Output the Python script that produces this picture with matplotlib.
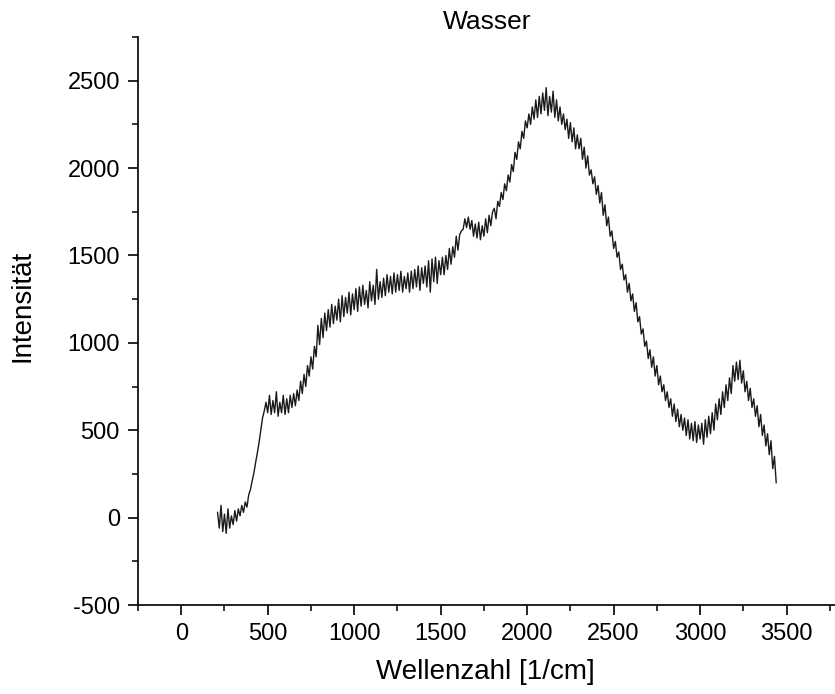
"""Raman spectrum of water (Wasser)."""

import matplotlib

matplotlib.use("Agg")
import matplotlib.pyplot as plt
import numpy as np
from matplotlib.ticker import MultipleLocator

plt.rcParams["font.family"] = ["Liberation Sans", "DejaVu Sans"]
plt.rcParams["axes.unicode_minus"] = False

# wavenumber grid, 10 cm^-1 steps
wavenumbers = np.arange(210, 3450, 10)

# intensity values, one row per 100 cm^-1
intensity = [
    30, -60, 70, -80, 20, -90, 50, -60, 10, -40,
    40, -20, 50, 10, 70, 30, 90, 60, 130, 160,
    210, 255, 315, 370, 430, 500, 570, 610, 660, 600,
    700, 590, 670, 600, 720, 580, 660, 600, 700, 590,
    680, 600, 700, 630, 710, 640, 730, 670, 780, 710,
    820, 750, 870, 810, 920, 850, 980, 920, 1100, 990,
    1140, 1030, 1170, 1070, 1190, 1090, 1220, 1110, 1210, 1130,
    1250, 1120, 1270, 1150, 1260, 1170, 1290, 1160, 1280, 1190,
    1310, 1180, 1320, 1210, 1330, 1220, 1300, 1200, 1350, 1240,
    1330, 1220, 1420, 1250, 1350, 1260, 1370, 1270, 1390, 1290,
    1380, 1280, 1400, 1290, 1390, 1300, 1410, 1290, 1380, 1310,
    1400, 1290, 1410, 1310, 1420, 1320, 1440, 1300, 1430, 1340,
    1440, 1320, 1470, 1290, 1480, 1350, 1490, 1340, 1470, 1390,
    1490, 1390, 1500, 1420, 1540, 1450, 1550, 1490, 1610, 1530,
    1620, 1640, 1650, 1710, 1660, 1720, 1650, 1700, 1610, 1680,
    1600, 1690, 1590, 1670, 1610, 1710, 1630, 1730, 1670, 1750,
    1770, 1710, 1810, 1780, 1860, 1820, 1910, 1870, 1960, 1920,
    2020, 1980, 2090, 2050, 2150, 2110, 2210, 2170, 2270, 2230,
    2310, 2250, 2350, 2280, 2390, 2290, 2410, 2310, 2430, 2330,
    2460, 2300, 2410, 2320, 2440, 2290, 2390, 2270, 2350, 2250,
    2310, 2220, 2280, 2170, 2260, 2150, 2230, 2110, 2190, 2110,
    2170, 2050, 2120, 2000, 2070, 1960, 1990, 1910, 1950, 1850,
    1900, 1800, 1860, 1730, 1790, 1670, 1720, 1610, 1640, 1540,
    1580, 1490, 1520, 1420, 1450, 1360, 1390, 1290, 1340, 1240,
    1280, 1180, 1230, 1120, 1150, 1050, 1080, 980, 1010, 910,
    960, 860, 920, 810, 870, 760, 810, 720, 760, 670,
    720, 630, 680, 580, 650, 550, 620, 520, 590, 500,
    570, 470, 560, 450, 540, 440, 550, 430, 530, 450,
    540, 420, 560, 460, 580, 480, 600, 500, 650, 560,
    680, 590, 720, 630, 760, 670, 800, 710, 870, 780,
    890, 790, 900, 770, 840, 720, 780, 670, 740, 630,
    680, 580, 640, 520, 590, 470, 530, 410, 480, 360,
    440, 280, 350, 200,
]

title = "Wasser"
x_label = "Wellenzahl [1/cm]"
y_label = "Intensität"

W, H = 835, 694
fig = plt.figure(figsize=(W / 100, H / 100), dpi=100)
ax = fig.add_axes([138 / W, 89 / H, (W - 138) / W, (605 - 37) / H])

ax.plot(wavenumbers, intensity, color="#1a1a1a", lw=1.0)

ax.set_xlim(-250, 3780)
ax.set_ylim(-500, 2750)
ax.xaxis.set_major_locator(MultipleLocator(500))
ax.xaxis.set_minor_locator(MultipleLocator(250))
ax.yaxis.set_major_locator(MultipleLocator(500))
ax.yaxis.set_minor_locator(MultipleLocator(250))

for side in ("top", "right"):
    ax.spines[side].set_visible(False)
for side in ("left", "bottom"):
    ax.spines[side].set_linewidth(1.3)
    ax.spines[side].set_color("#111111")

ax.tick_params(which="major", direction="out", length=7, width=1.2, labelsize=17, pad=6)
ax.tick_params(which="minor", direction="out", length=4, width=1.1)

ax.set_xlabel(x_label, fontsize=20)
ax.set_ylabel(y_label, fontsize=20)
ax.xaxis.set_label_coords((485 - 138) / (W - 138), (605 - 659) / 568)
ax.yaxis.set_label_coords((36 - 138) / (W - 138), (605 - 306) / 568)

fig.text(487 / W, 1 - 22 / H, title, fontsize=19, ha="center", va="center")

fig.savefig("out.png", dpi=100)
